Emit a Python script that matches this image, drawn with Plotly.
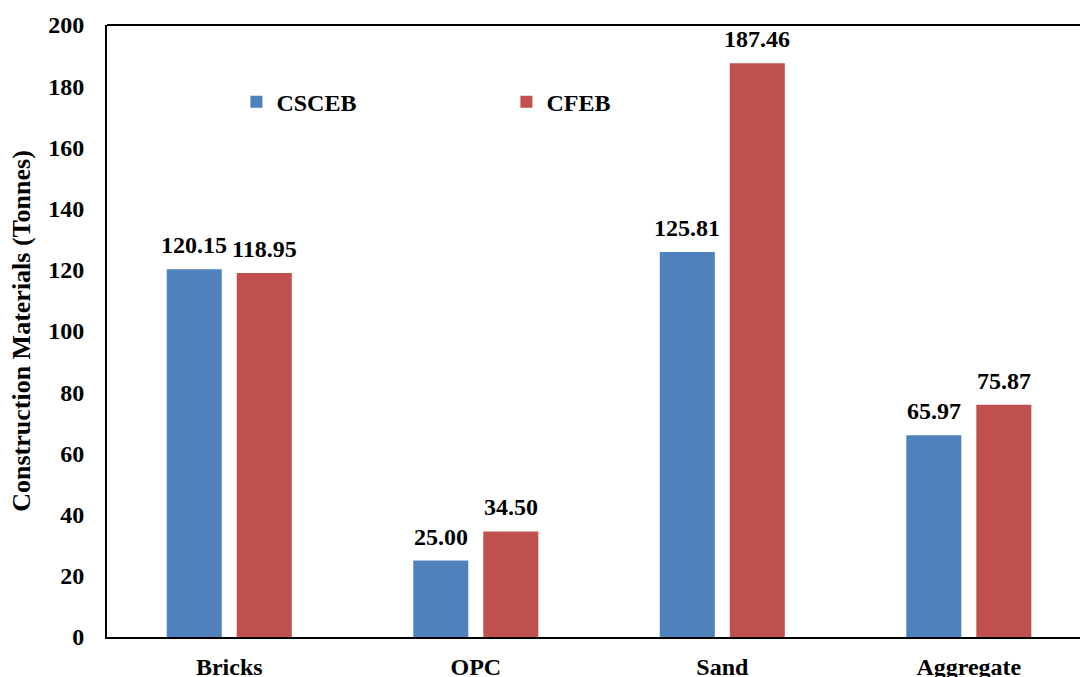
import plotly.graph_objects as go

categories = ["Bricks", "OPC", "Sand", "Aggregate"]
csceb = [120.15, 25.00, 125.81, 65.97]
cfeb = [118.95, 34.50, 187.46, 75.87]
series_names = ["CSCEB", "CFEB"]
y_ticks = [0, 20, 40, 60, 80, 100, 120, 140, 160, 180, 200]

BLUE = "#4F81BD"
RED = "#C0504D"
FONT = "Liberation Serif"
BOLD24 = dict(family=FONT, size=24, color="black", weight="bold")

fig = go.Figure()
for name, vals, col in [(series_names[0], csceb, BLUE), (series_names[1], cfeb, RED)]:
    fig.add_trace(go.Bar(
        x=categories, y=vals, name=name,
        marker=dict(color=col, line=dict(width=0)),
    ))

# value labels above each bar, shifted to sit over the grouped bar
annotations = []
for vals, dx in [(csceb, -35), (cfeb, 35)]:
    for cat, v in zip(categories, vals):
        annotations.append(dict(
            x=cat, y=v, xref="x", yref="y", text=f"{v:.2f}",
            showarrow=False, xanchor="center", yanchor="bottom",
            xshift=dx, yshift=9, font=BOLD24,
        ))

fig.update_layout(
    width=1080, height=677,
    margin=dict(l=107, r=0, t=25, b=40),
    paper_bgcolor="white", plot_bgcolor="white",
    barmode="group", bargap=0.432, bargroupgap=0.214,
    font=dict(family=FONT, size=24, color="black"),
    showlegend=True,
    legend=dict(
        orientation="h", x=0.133, y=0.874, xanchor="left", yanchor="middle",
        entrywidth=225, entrywidthmode="pixels",
        font=BOLD24, bgcolor="rgba(0,0,0,0)",
    ),
    xaxis=dict(
        range=[-0.496, 3.451], showgrid=False, zeroline=False, automargin=False,
        showline=True, linecolor="black", linewidth=2,
        ticks="", ticklabelstandoff=7, tickfont=BOLD24,
    ),
    yaxis=dict(
        range=[0, 200], tickvals=y_ticks, showgrid=False, zeroline=False, automargin=False,
        showline=True, linecolor="black", linewidth=2, ticks="",
        ticklabelstandoff=16, tickfont=BOLD24,
        title=dict(text="Construction Materials (Tonnes)", standoff=10,
                   font=dict(family=FONT, size=26, color="black", weight="bold")),
    ),
    annotations=annotations,
    shapes=[dict(type="line", xref="paper", yref="paper", x0=0, x1=1, y0=1, y1=1,
                 line=dict(color="black", width=2))],
)

fig.write_html("out.html")
